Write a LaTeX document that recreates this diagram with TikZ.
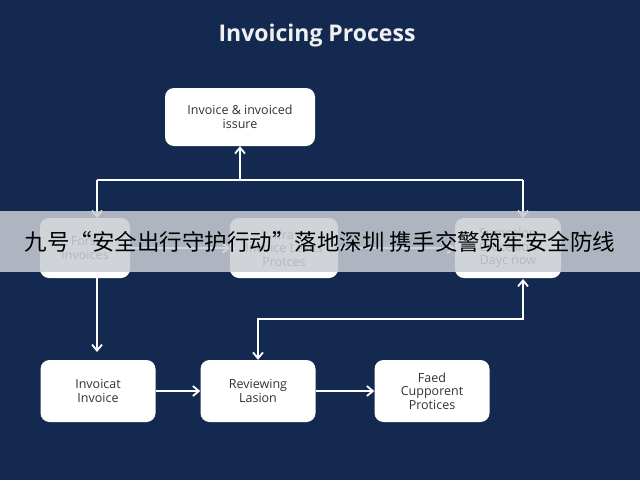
\documentclass[tikz,border=0pt]{standalone}
\usepackage{fontspec}
\setmainfont{Open Sans}
\newfontfamily\cjk{Noto Sans CJK SC}
\usetikzlibrary{arrows.meta}
\definecolor{bg}{HTML}{14294F}
\definecolor{boxtxt}{HTML}{2E3238}
\definecolor{band}{HTML}{C9CDD3}
\begin{document}
\begin{tikzpicture}[x=1pt,y=-1pt,
  box/.style={draw=none,fill=white,rounded corners=9pt,align=center,text=boxtxt,font=\fontsize{12.5}{13.5}\selectfont,inner sep=0pt},
  arr/.style={draw=white,line width=1.8pt,-{Straight Barb[length=6pt,width=10pt,line width=1.8pt]}},
  ln/.style={draw=white,line width=1.8pt}]
\fill[bg] (0,0) rectangle (640,480);
\useasboundingbox (0,0) rectangle (640,480);
\node[text=white!88!gray,font=\fontsize{23}{26}\selectfont\bfseries] (title) at (317,36) {Invoicing Process};
\node[box,minimum width=150pt,minimum height=58pt] (top) at (240,117) {Invoice \& invoiced\\issure};
\node[box,minimum width=90pt,minimum height=60pt] (m1) at (85,248) {Forsi\\Invoices};
\node[box,minimum width=108pt,minimum height=60pt] (m2) at (284,248) {Ifra\\Invoice Lesits\\Protces};
\node[box,minimum width=106pt,minimum height=60pt] (m3) at (508,248) {Sumcelon\\Crocesion\\Dayc now};
\node[box,minimum width=115pt,minimum height=62pt] (b1) at (98,391) {Invoicat\\Invoice};
\node[box,minimum width=115pt,minimum height=62pt] (b2) at (258,391) {Reviewing\\Lasion};
\node[box,minimum width=115pt,minimum height=62pt] (b3) at (432,391) {Faed\\Cupporent\\Protices};
\coordinate (jl) at (97,180);
\coordinate (jr) at (523,180);
\coordinate (jm) at (240,180);
\draw[ln] (jl) -- (jr);
\draw[arr] (jm) -- (top.south);
\draw[arr] (jl) -- (97,218);
\draw[arr] (jr) -- (523,218);
\draw[arr] (m1.east) -- (m2.west);
\draw[arr] (m2.east) -- (m3.west);
\draw[arr] (97,278) -- (97,352);
\draw[arr] (b1.east) -- (b2.west);
\draw[arr] (b2.east) -- (b3.west);
\coordinate (la) at (258,319);
\coordinate (lb) at (523,319);
\draw[arr] (lb) -- (la) -- (b2.north);
\draw[arr] (la) -- (lb) -- (523,279);
\fill[band,opacity=0.86] (0,211) rectangle (640,272);
\node[font=\cjk\fontsize{22.5}{25}\selectfont,text=black] (ban) at (320,242) {九号“安全出行守护行动”落地深圳 携手交警筑牢安全防线};
\end{tikzpicture}
\end{document}
